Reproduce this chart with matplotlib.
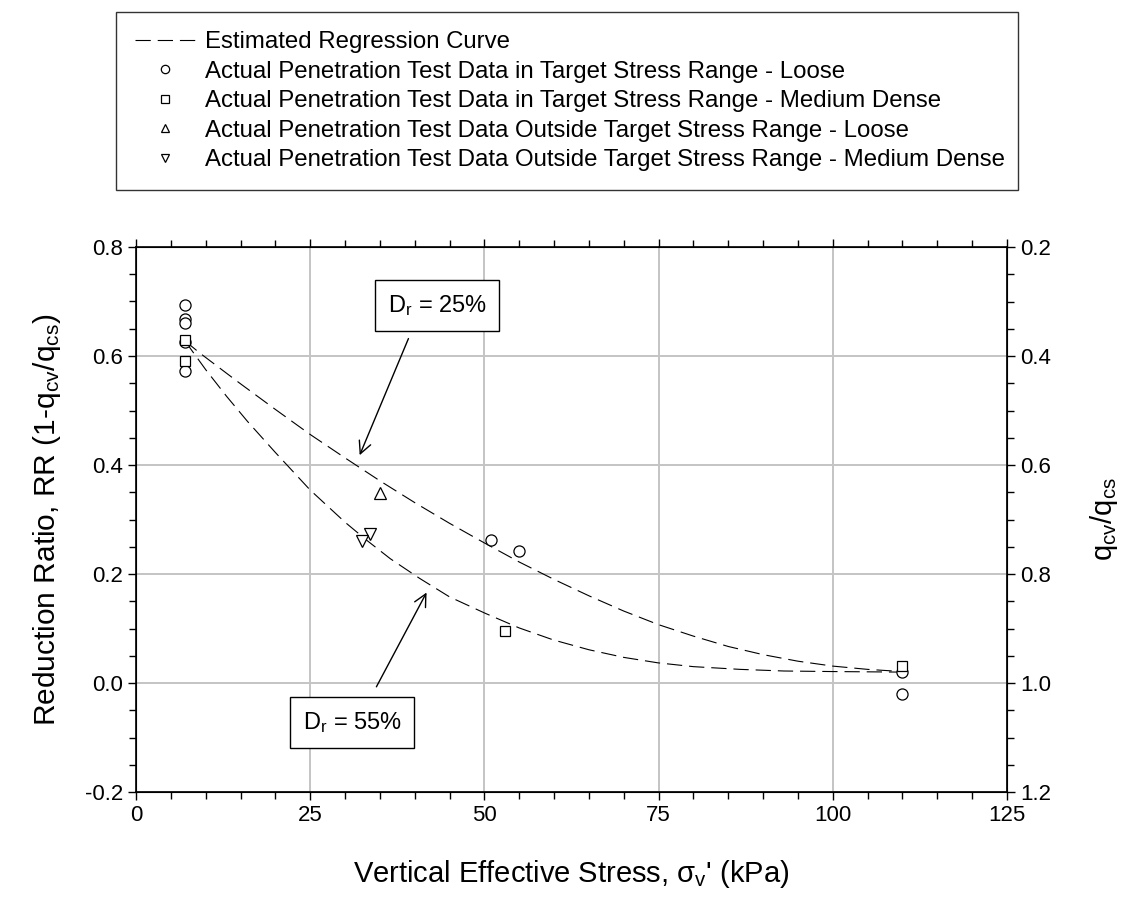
import matplotlib
matplotlib.use("Agg")
import matplotlib.pyplot as plt
from matplotlib.lines import Line2D
from matplotlib.ticker import MultipleLocator

plt.rcParams['font.family'] = ['Liberation Sans', 'DejaVu Sans']
plt.rcParams['mathtext.fontset'] = 'custom'
plt.rcParams['mathtext.rm'] = 'Liberation Sans'
plt.rcParams['mathtext.it'] = 'Liberation Sans'
plt.rcParams['axes.unicode_minus'] = False
plt.rcParams['lines.scale_dashes'] = False

# regression curves
curve25_x = [7, 9.2, 15, 20, 25, 30, 35, 40, 45, 50, 55, 60, 65, 70, 75, 80, 85, 90, 95, 100, 105, 110]
curve25_y = [0.628, 0.605, 0.549, 0.502, 0.456, 0.413, 0.371, 0.331, 0.293, 0.257, 0.222, 0.190,
             0.160, 0.132, 0.107, 0.086, 0.067, 0.052, 0.040, 0.031, 0.025, 0.021]
curve55_x = [7, 10, 13, 16, 20, 25, 30, 33.1, 36.5, 40.7, 45, 50.1, 55, 59.9, 65, 70, 74.9, 80, 86.7, 93, 100, 110]
curve55_y = [0.628, 0.575, 0.526, 0.480, 0.423, 0.354, 0.295, 0.262, 0.228, 0.192, 0.158, 0.128,
             0.101, 0.079, 0.061, 0.047, 0.037, 0.030, 0.025, 0.022, 0.021, 0.020]

# test data
loose_in_x = [7, 7, 7, 7, 7, 51, 55, 110, 110]
loose_in_y = [0.694, 0.667, 0.661, 0.626, 0.572, 0.262, 0.243, 0.021, -0.02]
med_in_x = [7, 7, 53, 110]
med_in_y = [0.629, 0.590, 0.096, 0.031]
loose_out_x = [35]
loose_out_y = [0.348]
med_out_x = [33.6, 32.4]
med_out_y = [0.273, 0.261]

labels = ["Estimated Regression Curve",
          "Actual Penetration Test Data in Target Stress Range - Loose",
          "Actual Penetration Test Data in Target Stress Range - Medium Dense",
          "Actual Penetration Test Data Outside Target Stress Range - Loose",
          "Actual Penetration Test Data Outside Target Stress Range - Medium Dense"]

fig = plt.figure(figsize=(11.29, 9.02), dpi=100)
ax = fig.add_axes([136/1129, 1-792/902, 871/1129, 545/902])

dash = (11, 5)
ax.plot(curve25_x, curve25_y, color='k', lw=0.8, dashes=dash, zorder=3)
ax.plot(curve55_x, curve55_y, color='k', lw=0.8, dashes=dash, zorder=3)

mk = dict(linestyle='none', mfc='white', mec='k', mew=0.9, ms=8, zorder=4)
ax.plot(loose_in_x, loose_in_y, marker='o', **mk)
ax.plot(med_in_x, med_in_y, marker='s', **dict(mk, ms=7.5))
ax.plot(loose_out_x, loose_out_y, marker='^', **mk)
ax.plot(med_out_x, med_out_y, marker='v', **mk)

ax.set_xlim(0, 125)
ax.set_ylim(-0.2, 0.8)
ax.xaxis.set_major_locator(MultipleLocator(25))
ax.xaxis.set_minor_locator(MultipleLocator(5))
ax.yaxis.set_major_locator(MultipleLocator(0.2))
ax.yaxis.set_minor_locator(MultipleLocator(0.05))
ax.yaxis.set_major_formatter(lambda v, p: f"{v:.1f}")
ax.grid(True, which='major', color='#c4c4c4', lw=1.4, zorder=0)
ax.set_axisbelow(True)
ax.tick_params(which='both', direction='out', top=True, labelsize=16, width=1, colors='k')
ax.tick_params(which='major', length=6)
ax.tick_params(which='minor', length=5)
for s in ax.spines.values():
    s.set_linewidth(1.2)

ax.set_xlabel("Vertical Effective Stress, σ$_{\\mathrm{v}}$' (kPa)", fontsize=21)
ax.xaxis.set_label_coords(0.5, -0.122)
ax.set_ylabel("Reduction Ratio, RR (1-q$_{\\mathrm{cv}}$/q$_{\\mathrm{cs}}$)", fontsize=21.5)
ax.yaxis.set_label_coords(-0.084, 0.5)

ax2 = ax.twinx()
ax2.set_ylim(1.2, 0.2)
ax2.yaxis.set_major_locator(MultipleLocator(0.2))
ax2.yaxis.set_minor_locator(MultipleLocator(0.05))
ax2.yaxis.set_major_formatter(lambda v, p: f"{v:.1f}")
ax2.tick_params(which='both', direction='out', labelsize=16, width=1)
ax2.tick_params(which='major', length=6)
ax2.tick_params(which='minor', length=5)
ax2.set_ylabel("q$_{\\mathrm{cv}}$/q$_{\\mathrm{cs}}$", fontsize=21)
ax2.yaxis.set_label_coords(1.0935, 0.5)

# density annotations
bbox = dict(boxstyle='square,pad=0.55', fc='white', ec='k', lw=1)
arr = dict(arrowstyle='->', color='k', lw=1, mutation_scale=22, shrinkA=0, shrinkB=0)
ax.annotate("", xy=(32.1, 0.418), xytext=(39.1, 0.632), arrowprops=arr)
ax.text(43.2, 0.692, "D$_{\\mathrm{r}}$ = 25%", fontsize=17, ha='center', va='center', bbox=bbox, zorder=5)
ax.annotate("", xy=(41.7, 0.166), xytext=(34.5, -0.007), arrowprops=arr)
ax.text(31.0, -0.072, "D$_{\\mathrm{r}}$ = 55%", fontsize=17, ha='center', va='center', bbox=bbox, zorder=5)

handles = [Line2D([], [], color='k', lw=0.8, dashes=(11, 5)),
           Line2D([], [], marker='o', **dict(mk, ms=6)),
           Line2D([], [], marker='s', **dict(mk, ms=5.5)),
           Line2D([], [], marker='^', **dict(mk, ms=6)),
           Line2D([], [], marker='v', **dict(mk, ms=6))]
leg = fig.legend(handles, labels, loc='upper left',
                 bbox_to_anchor=(116/1129, 1-190/902, 902/1129, 178/902), mode='expand',
                 fontsize=17.3, frameon=True, fancybox=False, edgecolor='k',
                 handlelength=2.5, handletextpad=0.42, labelspacing=0.31, borderaxespad=0,
                 borderpad=0.8)
leg.get_frame().set_linewidth(1)

fig.savefig("out.png", dpi=100)
